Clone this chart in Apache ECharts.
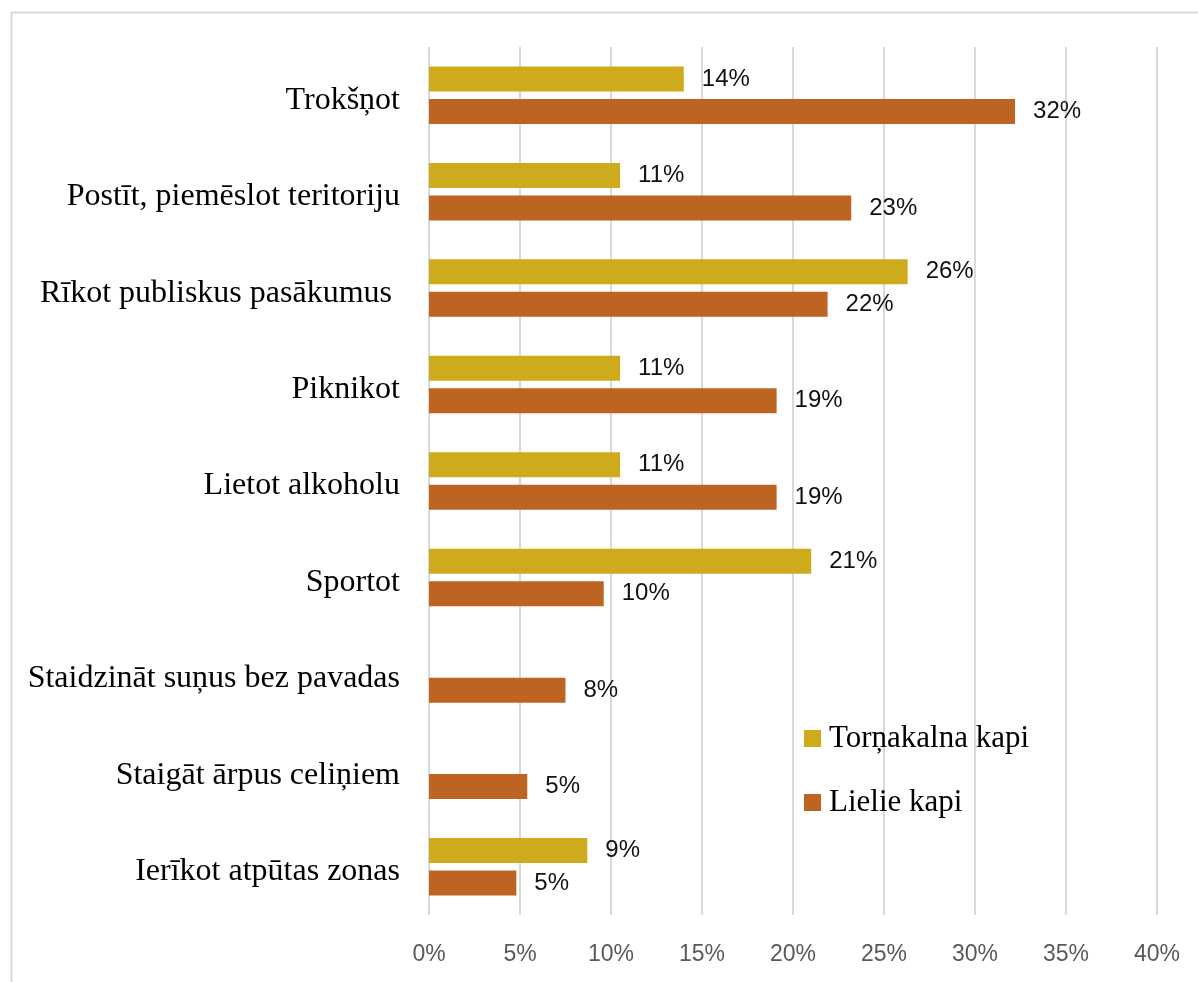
<!DOCTYPE html>
<html>
<head>
<meta charset="utf-8">
<script src="https://cdn.jsdelivr.net/npm/echarts@6/dist/echarts.min.js"></script>
<style>
html,body{margin:0;padding:0;background:#fff;}
#chart{width:1198px;height:982px;}
</style>
</head>
<body>
<div id="chart"></div>
<script>
const categories = ["Trokšņot", "Postīt, piemēslot teritoriju", "Rīkot publiskus pasākumus ", "Piknikot", "Lietot alkoholu", "Sportot", "Staidzināt suņus bez pavadas", "Staigāt ārpus celiņiem", "Ierīkot atpūtas zonas"];
const seriesNames = ["Torņakalna kapi", "Lielie kapi"];
const tornakalna = [0.140, 0.105, 0.263, 0.105, 0.105, 0.210, null, null, 0.087];
const lielie = [0.322, 0.232, 0.219, 0.191, 0.191, 0.096, 0.075, 0.054, 0.048];
const xTicks = [0, 0.05, 0.10, 0.15, 0.20, 0.25, 0.30, 0.35, 0.40];
const colors = ["#CEAA1D", "#BE6423"];

const chart = echarts.init(document.getElementById('chart'));
const pct = v => Math.round(v * 100) + '%';
const labelCfg = {
  show: true, position: 'right', distance: 18,
  fontFamily: 'Liberation Sans', fontSize: 24, color: '#111',
  formatter: p => p.value == null ? '' : pct(p.value)
};
chart.setOption({
  animation: false,
  graphic: [{
    type: 'rect', silent: true, z: -10,
    shape: { x: 11.5, y: 12.5, width: 1400, height: 1200 },
    style: { fill: 'none', stroke: '#d9d9d9', lineWidth: 2 }
  }],
  grid: { left: 429, right: 41, top: 47, bottom: 67, containLabel: false },
  legend: {
    orient: 'vertical', left: 804, top: 723, itemGap: 33, padding: 0,
    itemWidth: 17, itemHeight: 17,
    icon: 'rect',
    data: seriesNames,
    textStyle: { fontFamily: 'Liberation Serif', fontSize: 31, color: '#000', padding: [0, 0, 0, 3] }
  },
  xAxis: {
    type: 'value', min: 0, max: xTicks[xTicks.length - 1], interval: 0.05,
    axisLine: { show: false }, axisTick: { show: false },
    splitLine: { show: true, lineStyle: { color: '#d9d9d9', width: 2 } },
    axisLabel: {
      margin: 28, fontFamily: 'Liberation Sans', fontSize: 23, color: '#595959',
      formatter: v => pct(v)
    }
  },
  yAxis: {
    type: 'category', data: categories, inverse: true,
    axisLine: { show: false }, axisTick: { show: false },
    axisLabel: { margin: 29, fontFamily: 'Liberation Serif', fontSize: 32, color: '#000', verticalAlign: 'top', lineHeight: 10 }
  },
  series: [
    { name: seriesNames[0], type: 'bar', data: tornakalna, barWidth: 25, barGap: '30%',
      itemStyle: { color: colors[0] }, label: labelCfg },
    { name: seriesNames[1], type: 'bar', data: lielie, barWidth: 25, barGap: '30%',
      itemStyle: { color: colors[1] }, label: labelCfg }
  ]
});
</script>
</body>
</html>
